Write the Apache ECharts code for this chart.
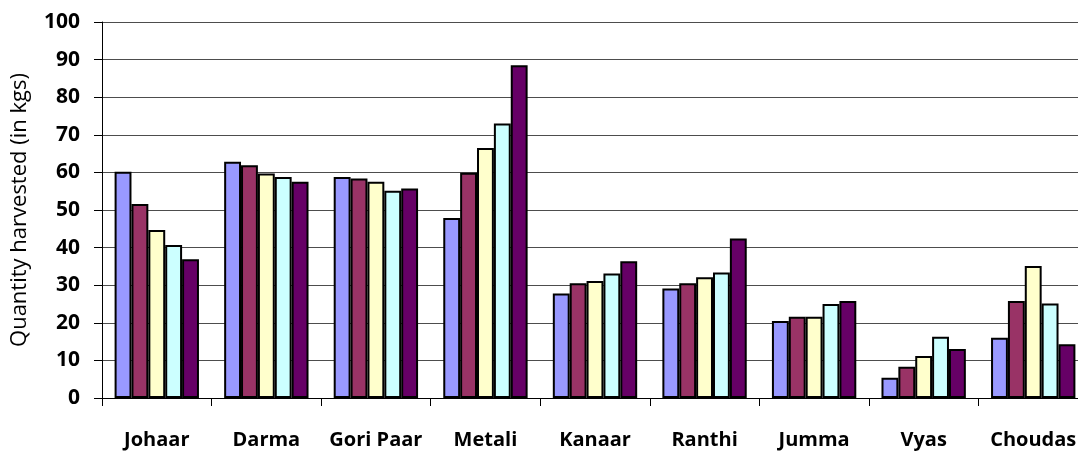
<!DOCTYPE html>
<html>
<head>
<meta charset="utf-8">
<script src="https://cdn.jsdelivr.net/npm/echarts@6/dist/echarts.min.js"></script>
<style>html,body{margin:0;padding:0;background:#fff;overflow:hidden;}#c{width:1090px;height:452px;}</style>
</head>
<body>
<div id="c"></div>
<script>
const categories = ['Johaar','Darma','Gori Paar','Metali','Kanaar','Ranthi','Jumma','Vyas','Choudas'];
const series1 = [60.2, 62.8, 58.8, 47.9, 27.8, 29.1, 20.5, 5.4, 16.0];
const series2 = [51.6, 61.9, 58.4, 59.9, 30.5, 30.5, 21.6, 8.3, 25.8];
const series3 = [44.7, 59.7, 57.5, 66.5, 31.1, 32.1, 21.6, 11.2, 35.1];
const series4 = [40.7, 58.8, 55.1, 73.0, 33.1, 33.4, 25.0, 16.3, 25.1];
const series5 = [36.9, 57.5, 55.7, 88.5, 36.4, 42.4, 25.8, 13.0, 14.3];
const yTicks = {min: 0, max: 100, interval: 10};
const colors = ['#9999FF','#993366','#FFFFCC','#CCFFFF','#660066'];
const allSeries = [series1, series2, series3, series4, series5];

const chart = echarts.init(document.getElementById('c'));
chart.setOption({
  animation: false,
  backgroundColor: '#fff',
  grid: {left: 102, top: 22, bottom: 54, right: 2, containLabel: false},
  xAxis: {
    type: 'category',
    data: categories,
    axisLine: {lineStyle: {color: '#000', width: 1}},
    axisTick: {show: true, length: 8, lineStyle: {color: '#000'}},
    axisLabel: {fontFamily: 'Open Sans', fontWeight: 'bold', fontSize: 20, color: '#000', margin: 32, interval: 0},
    splitLine: {show: false}
  },
  yAxis: {
    type: 'value',
    min: yTicks.min, max: yTicks.max, interval: yTicks.interval,
    name: 'Quantity harvested (in kgs)',
    nameLocation: 'middle',
    nameGap: 71,
    nameTextStyle: {fontFamily: 'Open Sans', fontSize: 22, color: '#000'},
    axisLine: {show: true, lineStyle: {color: '#000', width: 1}},
    axisTick: {show: true, length: 8, lineStyle: {color: '#000'}},
    axisLabel: {fontFamily: 'Open Sans', fontWeight: 'bold', fontSize: 21, color: '#000', margin: 22},
    splitLine: {show: true, lineStyle: {color: '#4d4d4d', width: 1}}
  },
  series: allSeries.map((d, i) => ({
    type: 'bar',
    data: d,
    barGap: '0%',
    barCategoryGap: '23%',
    itemStyle: {color: colors[i], borderColor: '#000', borderWidth: 2}
  }))
});
</script>
</body>
</html>
